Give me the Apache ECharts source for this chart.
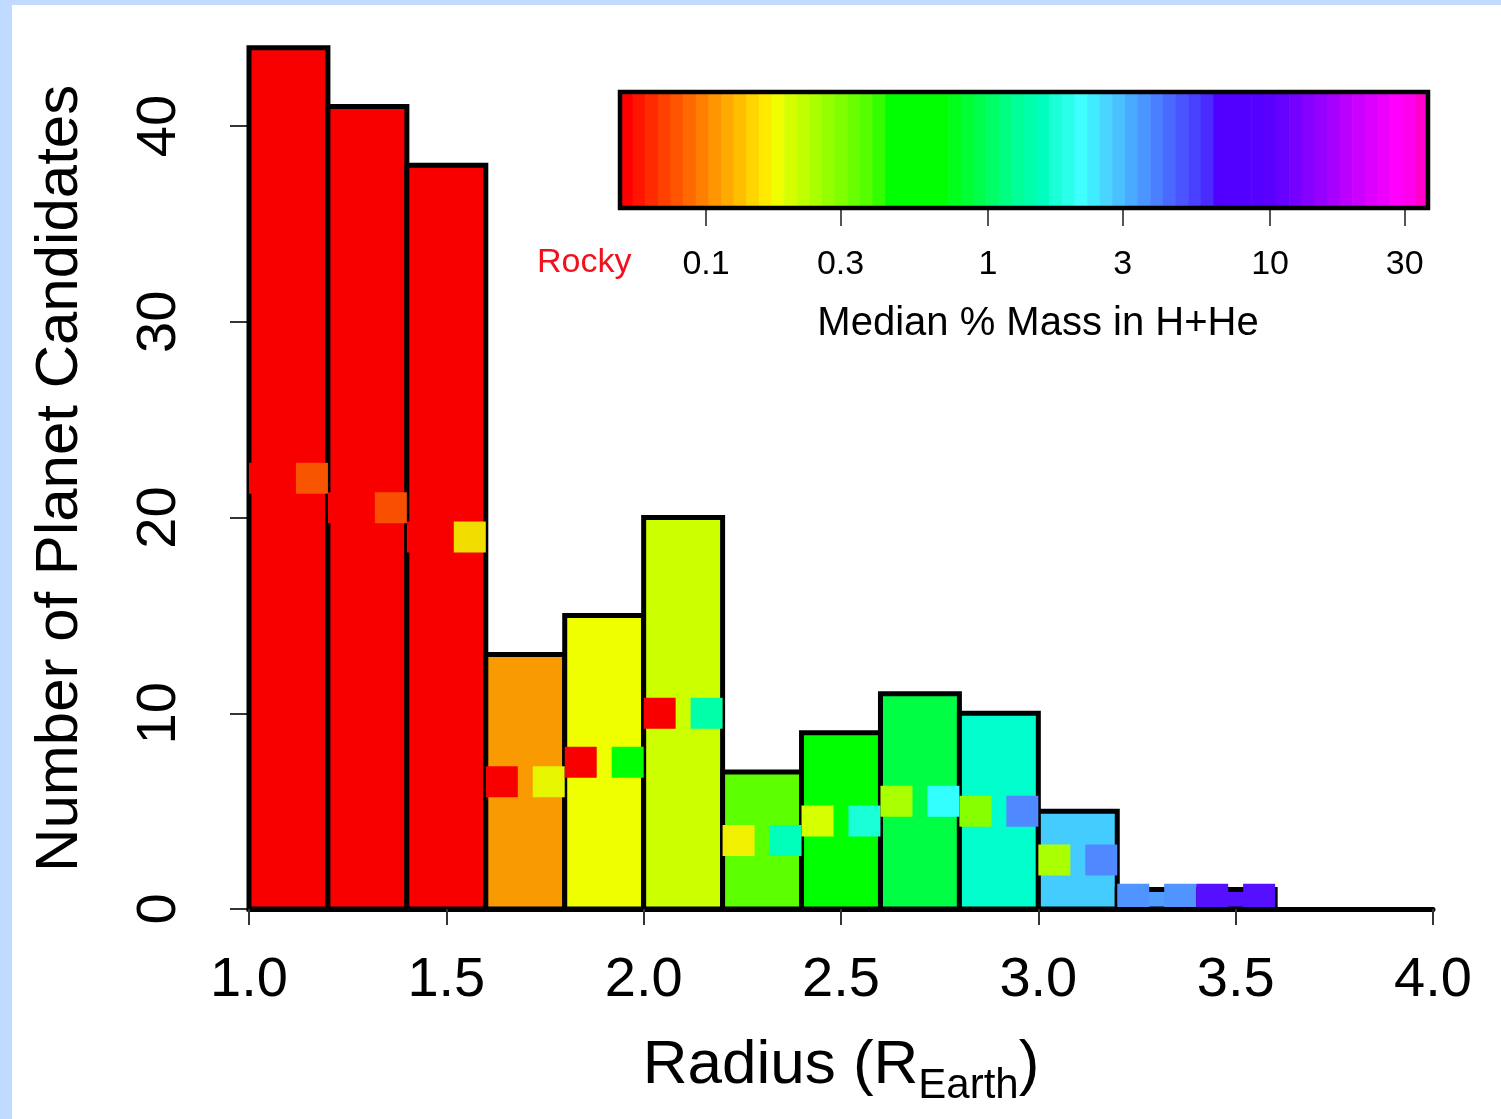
<!DOCTYPE html>
<html>
<head>
<meta charset="utf-8">
<script src="https://cdn.jsdelivr.net/npm/echarts@6/dist/echarts.min.js"></script>
<style>
  html, body { margin: 0; padding: 0; background: #c0dbff; }
  #chart0 { position: absolute; left: 12px; top: 5px; width: 1489px; height: 1114px; background: #fff; }
</style>
</head>
<body>
<div id="chart0"></div>
<script>
// histogram bins (radius, R_Earth)
var binLeft  = [1.0, 1.2, 1.4, 1.6, 1.8, 2.0, 2.2, 2.4, 2.6, 2.8, 3.0, 3.2, 3.4]
var binRight = [1.2, 1.4, 1.6, 1.8, 2.0, 2.2, 2.4, 2.6, 2.8, 3.0, 3.2, 3.4, 3.6]
var counts   = [44, 41, 38, 13, 15, 20, 7, 9, 11, 10, 5, 1, 1]

// median H+He colour of each bin, and the low / high squares
var barColors  = ['#f90000', '#f90000', '#f90000', '#f89a00', '#f0ff00', '#ccff00', '#5cff00',
                  '#00ff00', '#00ff44', '#00ffcc', '#44ccff', '#4f9dff', '#5511ff']
var lowColors  = ['#f90000', '#f90000', '#f90000', '#f90000', '#f90000', '#f90000', '#f0f000',
                  '#d6ff00', '#aaff00', '#88ff00', '#aaff00', '#5095ff', '#5511ff']
var highColors = ['#f85500', '#f85000', '#f2dd00', '#e6f500', '#00ff00', '#00ffa8', '#00ffbb',
                  '#1affd8', '#33ffff', '#5088ff', '#5088ff', '#5095ff', '#5511ff']

// colour bar (median % mass in H+He, log scale)
var massTicks = [0.1, 0.3, 1, 3, 10, 30]
var massMinLog = -1.305
var massMaxLog = 1.56
var stripeColors = [
  '#ff0000', '#ff1500', '#ff2b00', '#ff4000', '#ff5500', '#ff6a00', '#ff8000', '#ff9500',
  '#ffaa00', '#ffbf00', '#ffd500', '#ffea00', '#f0ff00', '#d5ff00', '#bfff00', '#aaff00',
  '#95ff00', '#80ff00', '#6aff00', '#55ff00', '#33ff00', '#00ff00', '#00ff00', '#00ff00',
  '#00ff00', '#00ff00', '#00ff1a', '#00ff33', '#00ff4d', '#00ff66', '#00ff80', '#00ff99',
  '#00ffaa', '#00ffbf', '#1affd5', '#2affea', '#40ffff', '#40eaff', '#4ad5ff', '#4ac0ff',
  '#4aaaff', '#4a95ff', '#4a80ff', '#4a6aff', '#4a55ff', '#4a40ff', '#4a2aff', '#5000ff',
  '#5200ff', '#5400ff', '#5600ff', '#5a00ff', '#6600ff', '#7500ff', '#8500ff', '#9500ff',
  '#a800ff', '#bb00ff', '#cc00ff', '#dd00ff', '#ee00ff', '#ff00ff', '#ff00ee', '#ff00cc'
]

var font = "'Liberation Sans', Arial, Helvetica, sans-serif"

var chart0 = echarts.init(document.getElementById('chart0'), null, { renderer: 'canvas' })

var binData = binLeft.map(function (l, i) { return [l, binRight[i], counts[i]] })
var stripeStep = (massMaxLog - massMinLog) / stripeColors.length
var stripeData = stripeColors.map(function (c, i) { return [massMinLog + i * stripeStep, massMinLog + (i + 1) * stripeStep] })
var massTickLogs = massTicks.map(function (v) { return Math.log10(v) })

var option0 = {
  backgroundColor: '#fff',
  animation: false,
  textStyle: { fontFamily: font, color: '#000' },
  grid: [{
    left: 237, top: 42.7, width: 1184, height: 861.3, outerBoundsMode: 'none'
  }, {
    left: 608, top: 87, width: 808, height: 116, outerBoundsMode: 'none',
    show: true, z: 5, borderColor: '#000', borderWidth: 4.5, backgroundColor: 'transparent'
  }],
  xAxis: [{
    type: 'value', gridIndex: 0, min: 1.0, max: 4.0, interval: 0.5, z: 10,
    axisLine: { show: true, lineStyle: { color: '#000', width: 5 } },
    axisTick: { show: true, length: 16, lineStyle: { color: '#333', width: 2 } },
    axisLabel: {
      fontSize: 56, color: '#000', margin: 72, verticalAlign: 'middle', fontFamily: font,
      formatter: function (v) { return v.toFixed(1) }
    },
    splitLine: { show: false },
    name: '{n|Radius (R}{s|Earth}{n|)}',
    nameLocation: 'middle',
    nameGap: 126,
    nameTextStyle: {
      color: '#000', fontFamily: font, fontSize: 62, verticalAlign: 'top',
      rich: {
        n: { fontSize: 62, lineHeight: 60, verticalAlign: 'top', fontFamily: font, color: '#000' },
        s: { fontSize: 42, lineHeight: 72, verticalAlign: 'bottom', fontFamily: font, color: '#000' }
      }
    }
  }, {
    type: 'value', gridIndex: 1, min: massMinLog, max: massMaxLog,
    axisLine: { show: false },
    axisTick: { show: true, length: 18, customValues: massTickLogs, lineStyle: { color: '#555', width: 2 } },
    axisLabel: {
      fontSize: 34, color: '#000', margin: 57, verticalAlign: 'middle', fontFamily: font,
      customValues: massTickLogs,
      formatter: function (v) { return String(+Math.pow(10, v).toPrecision(2)) }
    },
    splitLine: { show: false },
    name: 'Median % Mass in H+He',
    nameLocation: 'middle',
    nameGap: 116,
    nameTextStyle: { color: '#000', fontFamily: font, fontSize: 40, verticalAlign: 'middle', padding: [0, 0, 0, 28] }
  }],
  yAxis: [{
    type: 'value', gridIndex: 0, min: 0, max: 44, interval: 10,
    axisLine: { show: true, lineStyle: { color: '#000', width: 2 } },
    axisTick: { show: true, length: 19, customValues: [0, 10, 20, 30, 40], lineStyle: { color: '#333', width: 2 } },
    axisLabel: {
      fontSize: 56, color: '#000', margin: 89, rotate: 90, align: 'center', verticalAlign: 'middle',
      fontFamily: font, customValues: [0, 10, 20, 30, 40]
    },
    splitLine: { show: false },
    name: 'Number of Planet Candidates',
    nameLocation: 'middle',
    nameGap: 189,
    nameTextStyle: { color: '#000', fontFamily: font, fontSize: 60, verticalAlign: 'middle' }
  }, {
    type: 'value', gridIndex: 1, min: 0, max: 1,
    axisLine: { show: false }, axisTick: { show: false }, axisLabel: { show: false }, splitLine: { show: false }
  }],
  graphic: [{
    type: 'text', left: 572 - 47, top: 261 - 20,
    style: { text: 'Rocky', fill: '#f2101c', font: '34px ' + font }
  }],
  series: [{
    type: 'custom',
    name: 'bins',
    xAxisIndex: 0, yAxisIndex: 0,
    encode: { x: [0, 1], y: 2 },
    data: binData,
    renderItem: function (params, api) {
      var i = params.dataIndex
      var p0 = api.coord([api.value(0), api.value(2)])
      var p1 = api.coord([api.value(1), 0])
      return {
        type: 'rect',
        shape: { x: p0[0], y: p0[1], width: p1[0] - p0[0], height: p1[1] - p0[1] },
        style: { fill: barColors[i], stroke: '#000', lineWidth: 5 }
      }
    }
  }, {
    type: 'custom',
    name: 'range',
    xAxisIndex: 0, yAxisIndex: 0,
    clip: true,
    encode: { x: [0, 1], y: 2 },
    data: binData,
    renderItem: function (params, api) {
      var i = params.dataIndex
      var pl = api.coord([api.value(0), api.value(2) / 2])
      var pr = api.coord([api.value(1), api.value(2) / 2])
      return {
        type: 'group',
        children: [{
          type: 'rect',
          shape: { x: pl[0], y: pl[1] - 15.5, width: 32, height: 31 },
          style: { fill: lowColors[i] }
        }, {
          type: 'rect',
          shape: { x: pr[0] - 32, y: pr[1] - 15.5, width: 32, height: 31 },
          style: { fill: highColors[i] }
        }]
      }
    }
  }, {
    type: 'custom',
    name: 'colourbar',
    xAxisIndex: 1, yAxisIndex: 1,
    encode: { x: [0, 1] },
    data: stripeData,
    renderItem: function (params, api) {
      var i = params.dataIndex
      var a = api.coord([api.value(0), 1])
      var b = api.coord([api.value(1), 0])
      return {
        type: 'rect',
        shape: { x: a[0], y: a[1], width: b[0] - a[0] + 0.6, height: b[1] - a[1] },
        style: { fill: stripeColors[i] }
      }
    }
  }]
}

chart0.setOption(option0)
</script>
</body>
</html>
